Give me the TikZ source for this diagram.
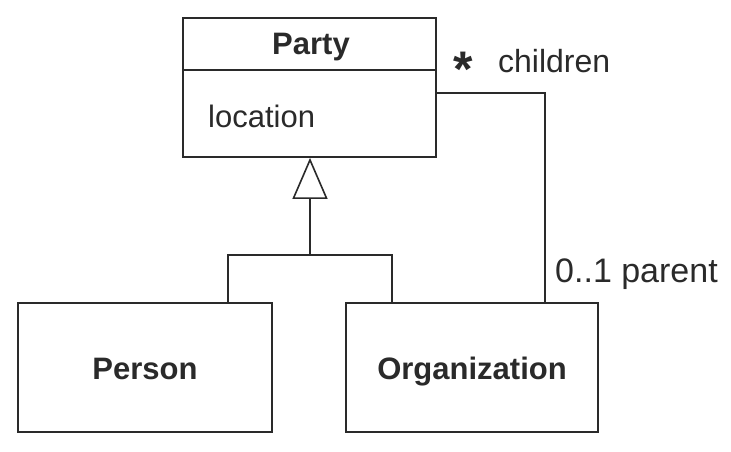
\documentclass[tikz,border=0pt]{standalone}
\usepackage{fontspec}
\setmainfont{Liberation Sans}
\usetikzlibrary{arrows.meta}
\definecolor{ink}{HTML}{2A2A2A}
\begin{document}
\begin{tikzpicture}[x=1pt,y=-1pt,
  box/.style={draw=ink,line width=1.8pt,rectangle,inner sep=0pt,anchor=center},
  lbl/.style={font=\fontsize{31}{31}\selectfont,text=ink,inner sep=0pt},
  blbl/.style={font=\fontsize{31}{31}\selectfont\bfseries,text=ink,inner sep=0pt},
  conn/.style={draw=ink,line width=1.6pt}]
\useasboundingbox[fill=white] (0,0) rectangle (731,452);
% Party class
\node[box,minimum width=253pt,minimum height=139pt] (party) at (309.5,87.5) {};
\draw[conn,line width=1.8pt] (party.west |- 0,70) coordinate (dl) -- (party.east |- 0,70) coordinate (dr);
\node[blbl,anchor=base] (ptitle) at (311,55) {Party};
\node[lbl,anchor=base west] (ploc) at (208,127) {location};
% Subclasses
\node[box,minimum width=254pt,minimum height=129pt] (person) at (145,367.5) {};
\node[blbl,anchor=base] (personl) at (145,379) {Person};
\node[box,minimum width=252pt,minimum height=129pt] (org) at (472,367.5) {};
\node[blbl,anchor=base] (orgl) at (472,379) {Organization};
% Generalization
\coordinate (j) at (310,255);
\coordinate (pa) at ([xshift=83pt]person.north);
\coordinate (oa) at ([xshift=-80pt]org.north);
\draw[conn] (pa) |- (j) -| (oa);
\draw[conn,-{Triangle[open,length=41pt,width=35pt,line width=1.6pt]}] (j) -- (party.south -| j);
% Association
\coordinate (ac) at ([xshift=73pt]org.north);
\draw[conn] (party.east |- 0,93) -- (ac |- 0,93) -- (ac);
\node[font=\fontsize{50}{50}\selectfont\bfseries,text=ink,inner sep=0pt,anchor=base] (star) at (463,87) {*};
\node[lbl,anchor=base west,font=\fontsize{32}{32}\selectfont] (child) at (498,73) {children};
\node[lbl,anchor=base west,font=\fontsize{34}{34}\selectfont] (par) at (555,282) {0..1 parent};
\end{tikzpicture}
\end{document}
